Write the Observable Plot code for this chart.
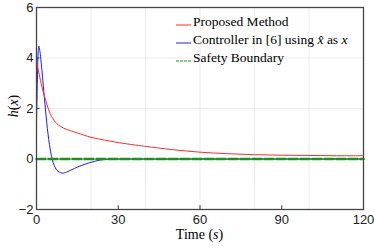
<!DOCTYPE html>
<html><head><meta charset="utf-8">
<script src="https://cdn.jsdelivr.net/npm/d3@7"></script>
<script src="https://cdn.jsdelivr.net/npm/@observablehq/plot@0.6"></script>
<style>
body{margin:0;background:#fff;}
#wrap{position:relative;width:374px;height:246px;overflow:hidden;}
.serif{font-family:'Liberation Serif','DejaVu Serif',serif !important;color:#000;}
.legend{position:absolute;left:176px;top:12.5px;font-size:13.5px;line-height:18px;}
.legend .row{display:flex;align-items:center;height:18.3px;white-space:nowrap;}
.legend svg{margin-right:2px;}
#xlab{position:absolute;left:36px;width:327px;top:227px;text-align:center;font-size:14px;}
#ylab{position:absolute;left:-36px;top:98px;width:100px;text-align:center;font-size:14px;transform:rotate(-90deg);}
</style></head>
<body>
<div id="wrap"></div>
<script>
// Time axis values and series
const redT   = [0, 0.5, 1, 1.5, 2, 3, 4, 5, 6, 7, 8, 10, 12.5, 15, 20, 25, 30, 35, 40, 50, 60, 70, 80, 90, 100, 110, 120];
const redH   = [3.85, 3.6, 3.35, 3.1, 2.85, 2.45, 2.1, 1.8, 1.6, 1.45, 1.35, 1.22, 1.12, 1.03, 0.86, 0.75, 0.65, 0.57, 0.5, 0.37, 0.27, 0.21, 0.17, 0.15, 0.14, 0.13, 0.13];
const blueT  = [0, 0.3, 0.6, 0.85, 1.2, 2, 3, 4, 5, 5.75, 6.5, 7.5, 9.4, 11, 13, 15, 18, 20, 23, 26, 30, 60, 90, 120];
const blueH  = [1.5, 3.0, 4.2, 4.47, 4.3, 3.5, 2.3, 1.2, 0.4, 0, -0.25, -0.45, -0.56, -0.52, -0.42, -0.32, -0.2, -0.13, -0.05, -0.01, 0, 0, 0, 0];
const boundT = [0, 120];
const boundH = [0, 0];
const xTicks = [0, 30, 60, 90, 120];
const yTicks = [-2, 0, 2, 4, 6];
const xGrid  = [20, 40, 60, 80, 100];
const yGrid  = [2, 4];

const red = redT.map((t, i) => ({t, h: redH[i]}));
const blue = blueT.map((t, i) => ({t, h: blueH[i]}));
const bound = boundT.map((t, i) => ({t, h: boundH[i]}));

const chart = Plot.plot({
  width: 374, height: 246,
  marginLeft: 36, marginRight: 11, marginTop: 7, marginBottom: 37,
  style: {fontFamily: "'Liberation Sans', Arial, sans-serif", fontSize: "13px", color: "#222", background: "#fff"},
  x: {domain: [0, 120]},
  y: {domain: [-2, 6]},
  marks: [
    Plot.ruleX(xGrid, {stroke: "#ececec", strokeWidth: 1}),
    Plot.ruleY(yGrid, {stroke: "#ececec", strokeWidth: 1}),
    Plot.axisX(xTicks, {tickSize: 0, tickPadding: 5, label: null, fill: "#222"}),
    Plot.axisY(yTicks, {tickSize: 0, tickPadding: 3, label: null, fill: "#222"}),
    Plot.ruleX(xTicks.slice(1, -1), {y1: -2, y2: -1.85, stroke: "#333"}),
    Plot.ruleY(yTicks.slice(1, -1), {x1: 0, x2: 1.3, stroke: "#333"}),
    Plot.line(blue, {x: "t", y: "h", stroke: "#1a1aff", strokeWidth: 1, curve: "catmull-rom"}),
    Plot.line(red, {x: "t", y: "h", stroke: "#ff2a2a", strokeWidth: 1, curve: "catmull-rom"}),
    Plot.line(bound, {x: "t", y: "h", stroke: "#119911", strokeWidth: 2.6, strokeDasharray: "9,3"}),
    Plot.frame({stroke: "#444", strokeWidth: 1.3})
  ]
});
const wrap = document.getElementById("wrap");
wrap.appendChild(chart);

const SERIF = "font-family:'Liberation Serif','DejaVu Serif',serif";
const sw = (c, dash) => `<svg width="15" height="10"><line x1="0" x2="15" y1="8" y2="8" stroke="${c}" stroke-width="1"${dash ? ` stroke-dasharray="${dash}"` : ""}/></svg>`;
const legend = document.createElement("div");
legend.className = "legend serif";
legend.setAttribute("style", SERIF);
legend.innerHTML = `
<div class="row">${sw("#ff2a2a")}<span style="${SERIF}">Proposed Method</span></div>
<div class="row">${sw("#1a1aff")}<span style="${SERIF}">Controller in [6] using&nbsp;<i>x̂</i>&nbsp;as&nbsp;<i>x</i></span></div>
<div class="row">${sw("#119911", "3,1")}<span style="${SERIF}">Safety Boundary</span></div>`;
wrap.appendChild(legend);

const xl = document.createElement("div");
xl.id = "xlab"; xl.className = "serif";
xl.innerHTML = `<span style="${SERIF}">Time (<i>s</i>)</span>`;
wrap.appendChild(xl);
const yl = document.createElement("div");
yl.id = "ylab"; yl.className = "serif";
yl.innerHTML = `<span style="${SERIF}"><i>h</i>(<i>x</i>)</span>`;
wrap.appendChild(yl);
</script>
</body></html>
